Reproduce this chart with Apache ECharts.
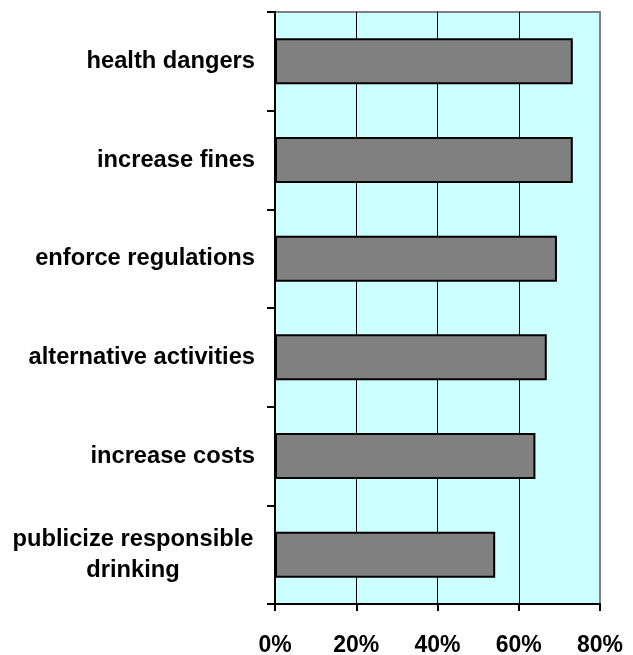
<!DOCTYPE html>
<html>
<head>
<meta charset="utf-8">
<script src="https://cdn.jsdelivr.net/npm/echarts@6/dist/echarts.min.js"></script>
<style>
  html, body { margin: 0; padding: 0; background: #ffffff; }
  #chart { width: 633px; height: 655px; }
</style>
</head>
<body>
<div id="chart"></div>
<script>
// Survey responses: share of respondents supporting each measure (%)
const categories = [
  'health dangers',
  'increase fines',
  'enforce regulations',
  'alternative activities',
  'increase costs',
  'publicize responsible\ndrinking'
];
const supportPct = [73.3, 73.3, 69.4, 66.9, 64.1, 54.2];
const xTicks = [0, 20, 40, 60, 80];

const FONT = '"Liberation Sans", Arial, sans-serif';
const LABEL_SIZE = 23.7;

const chart = echarts.init(document.getElementById('chart'), null, { renderer: 'canvas' });

chart.setOption({
  animation: false,
  backgroundColor: '#ffffff',
  grid: {
    left: 275,
    right: 33,
    top: 12,
    bottom: 51,
    outerBoundsMode: 'none',
    show: true,
    backgroundColor: '#ccffff',
    borderColor: '#808080',
    borderWidth: 2
  },
  xAxis: {
    type: 'value',
    min: xTicks[0],
    max: xTicks[xTicks.length - 1],
    interval: xTicks[1] - xTicks[0],
    axisLine: { show: true, lineStyle: { color: '#000000', width: 2 } },
    axisTick: { show: true, length: 7, lineStyle: { color: '#000000', width: 2 } },
    axisLabel: {
      formatter: '{value}%',
      color: '#000000',
      fontFamily: FONT,
      fontWeight: 'bold',
      fontSize: 23,
      margin: 30
    },
    splitLine: {
      show: true,
      lineStyle: {
        color: ['#000000', '#000000', '#000000', '#000000', '#808080'],
        width: 1
      }
    }
  },
  yAxis: {
    type: 'category',
    data: categories,
    inverse: true,
    axisLine: { show: true, lineStyle: { color: '#000000', width: 2 } },
    axisTick: { show: true, length: 8, lineStyle: { color: '#000000', width: 2 } },
    axisLabel: {
      color: '#000000',
      fontFamily: FONT,
      fontWeight: 'bold',
      fontSize: LABEL_SIZE,
      margin: 20,
      lineHeight: 31,
      formatter: function (v) {
        // Two-line labels are centred as a block
        if (v.indexOf('\n') >= 0) {
          return v.split('\n').map(function (line) { return '{c|' + line + '}'; }).join('\n');
        }
        return v;
      },
      rich: {
        c: {
          width: 244,
          align: 'center',
          fontFamily: FONT,
          fontWeight: 'bold',
          fontSize: LABEL_SIZE,
          lineHeight: 31,
          color: '#000000'
        }
      }
    },
    splitLine: { show: false }
  },
  series: [{
    type: 'bar',
    data: supportPct,
    barWidth: 46,
    itemStyle: {
      color: '#808080',
      borderColor: '#000000',
      borderWidth: 2
    },
    z: 3
  }]
});
</script>
</body>
</html>
